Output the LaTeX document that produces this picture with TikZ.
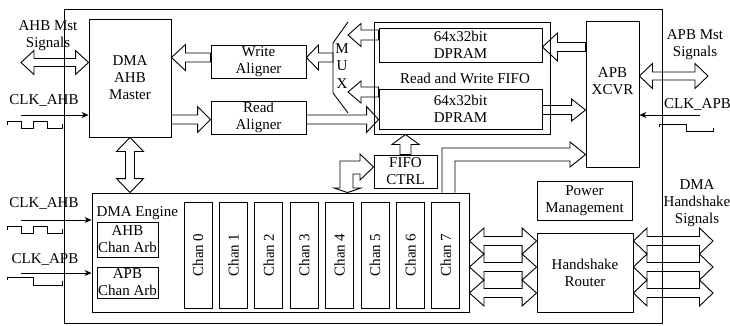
\documentclass[tikz,border=0pt]{standalone}
\usepackage{fontspec}
\setmainfont{Liberation Serif}
\usetikzlibrary{calc,arrows.meta}
\tikzset{
  every node/.style={font=\fontsize{15}{17}\selectfont, inner sep=0pt, align=center},
  blk/.style={draw, line width=0.9pt},
  fat/.style={draw, line width=0.9pt, line join=miter},
  clk/.style={line width=0.9pt, -{Stealth[length=7pt,width=6pt]}},
  wave/.style={line width=0.9pt},
}
% single hollow arrow: start, end, shaft half-width, head half-width, head length
\newcommand\fatone[5]{%
  \path (#1) coordinate (fs) (#2) coordinate (fe);
  \path ($(fe)!#5!(fs)$) coordinate (fh);
  \draw[fat] ($(fs)!#3!90:(fe)$) -- ($(fh)!#3!90:(fe)$) -- ($(fh)!#4!90:(fe)$) -- (fe)
    -- ($(fh)!#4!-90:(fe)$) -- ($(fh)!#3!-90:(fe)$) -- ($(fs)!#3!-90:(fe)$) -- cycle;}
% double hollow arrow
\newcommand\fattwo[5]{%
  \path (#1) coordinate (fs) (#2) coordinate (fe);
  \path ($(fs)!#5!(fe)$) coordinate (ha) ($(fe)!#5!(fs)$) coordinate (hb);
  \draw[fat] (fs) -- ($(ha)!#4!90:(fe)$) -- ($(ha)!#3!90:(fe)$) -- ($(hb)!#3!90:(fe)$)
    -- ($(hb)!#4!90:(fe)$) -- (fe) -- ($(hb)!#4!-90:(fe)$) -- ($(hb)!#3!-90:(fe)$)
    -- ($(ha)!#3!-90:(fe)$) -- ($(ha)!#4!-90:(fe)$) -- cycle;}
\begin{document}
\begin{tikzpicture}[x=1pt,y=-1pt]
\useasboundingbox (0,0) rectangle (730,325);
% outer chip
\node[blk, minimum width=598pt, minimum height=314pt] (chip) at (363,166) {};
% blocks
\node[blk, minimum width=82pt, minimum height=118pt] (dma) at (130,78) {DMA\\AHB\\Master};
\node[blk, minimum width=95pt, minimum height=33pt] (wa) at (258.5,61.5) {Write\\Aligner};
\node[blk, minimum width=95pt, minimum height=33pt] (ra) at (258.5,117.5) {Read\\Aligner};
\node[blk, minimum width=176pt, minimum height=112pt] (fifo) at (462,78) {\hspace{6pt}Read and Write FIFO};
\node[blk, minimum width=163pt, minimum height=34pt] (dp1) at (460.5,45) {64x32bit\\DPRAM};
\node[blk, minimum width=163pt, minimum height=40pt] (dp2) at (460.5,109) {64x32bit\\DPRAM};
\node[blk, minimum width=53pt, minimum height=146pt] (apb) at (612.5,94) {};
\node (apbt) at (612.5,81) {APB\\XCVR};
\node[blk, minimum width=63pt, minimum height=33pt] (fctrl) at (405.5,171.5) {FIFO\\CTRL};
\node[blk, minimum width=377pt, minimum height=119pt] (eng) at (280.5,252.5) {};
\node[anchor=base west] (engt) at (96.5,216) {DMA Engine};
\node[blk, minimum width=61pt, minimum height=35pt] (ahbarb) at (127.5,239.5) {AHB\\Chan Arb};
\node[blk, minimum width=61pt, minimum height=31pt] (apbarb) at (127.5,282.5) {APB\\Chan Arb};
\foreach \i in {0,...,7}
  \node[blk, rotate=90, minimum width=106pt, minimum height=28pt] (ch\i) at ({198+35.4*\i},255) {Chan \i};
\node[blk, minimum width=95pt, minimum height=39pt] (pm) at (584.5,200.5) {Power\\Management};
\node[blk, minimum width=96pt, minimum height=79pt] (hr) at (585,272.5) {Handshake\\Router};
% mux
\coordinate (mxl) at (333,66);
\coordinate (muxA) at (348,35);
\coordinate (muxB) at (348,92);
\draw[blk] (348,22) -- (333,43) -- (333,93) -- (348,113);
\node[font=\fontsize{15}{17.5}\selectfont] (mux) at (342,66) {M\\U\\X};
% external labels
\node (ahbs) at (48,36) {AHB Mst\\Signals};
\node (apbs) at (695,45) {APB Mst\\Signals};
\node (hss) at (697,203.5) {DMA\\Handshake\\Signals};
\node (ck1) at (44,100) {CLK\_AHB};
\node (ck2) at (44,203) {CLK\_AHB};
\node (ck3) at (45,259.5) {CLK\_APB};
\node (ck4) at (697.5,104) {CLK\_APB};
% hollow arrows
\fatone{wa.west |- 0,57.5}{dma.east |- 0,57.5}{4.5pt}{13pt}{14pt}
\fatone{dma.east |- 0,119.5}{ra.west |- 0,119.5}{4.5pt}{13pt}{13pt}
\fatone{mxl |- 0,57.5}{wa.east |- 0,57.5}{4.5pt}{12.5pt}{12pt}
\fatone{dp1.west |- 0,35}{muxA}{5pt}{11.5pt}{13pt}
\fatone{dp2.west |- 0,92}{muxB}{5pt}{11pt}{13pt}
\fatone{ra.east |- 0,119.5}{dp2.west |- 0,119.5}{4.5pt}{13pt}{12pt}
\fatone{apb.west |- 0,47}{dp1.east |- 0,47}{4.5pt}{14pt}{15pt}
\fatone{dp2.east |- 0,110}{apb.west |- 0,110}{4.5pt}{11pt}{14pt}
\fattwo{dma.south}{eng.north -| dma.south}{4.5pt}{13.5pt}{14pt}
\fatone{fctrl.north}{fctrl.north |- fifo.south}{5.5pt}{13.5pt}{10pt}
\coordinate (ahbe) at (21,62.5);
\coordinate (apbe) at (708,76);
\fattwo{ahbe}{dma.west |- ahbe}{4pt}{12pt}{13pt}
\fattwo{apb.east |- apbe}{apbe}{4pt}{12.5pt}{13pt}
\foreach \y in {241,267,293}{
  \fattwo{eng.east |- 0,\y}{hr.west |- 0,\y}{4.5pt}{13pt}{14.5pt}
  \coordinate (hse) at (713,\y);
  \fattwo{hr.east |- hse}{hse}{4.5pt}{13pt}{13.5pt}
}
% L-shaped arrows
\draw[fat] (eng.north -| 442,0) -- (442,148) -- (570,148) -- (570,142) -- (apb.west |- 0,154.5)
  -- (570,167) -- (570,161) -- (455,161) -- (eng.north -| 455,0);
\draw[fat] (340,188) -- (340,161) -- (360,161) -- (360,154) -- (fctrl.west |- 0,167) -- (360,180)
  -- (360,174) -- (353,174) -- (353,188) -- (361,188) -- (eng.north -| 347.5,0) -- (334,188) -- cycle;
% clock arrows
\coordinate (c1) at (21,115);
\coordinate (c2) at (21,220);
\coordinate (c3) at (21,273);
\coordinate (c4) at (700,115);
\draw[clk] (c1) -- (dma.west |- c1);
\draw[clk] (c2) -- (eng.west |- c2);
\draw[clk] (c3) -- (eng.west |- c3);
\draw[clk] (c4) -- (apb.east |- c4);
% clock waveforms
\draw[wave] (7,125) -- (7,121) -- (21,121) -- (21,128) -- (33,128) -- (33,121) -- (47,121) -- (47,128) -- (62,128) -- (62,124);
\draw[wave] (7,230) -- (7,226) -- (21,226) -- (21,233) -- (33,233) -- (33,226) -- (47,226) -- (47,233) -- (62,233) -- (62,229);
\draw[wave] (7,280) -- (7,277) -- (33,277) -- (33,285) -- (62,285) -- (62,281);
\draw[wave] (659,127) -- (659,124) -- (686,124) -- (686,131) -- (713,131) -- (713,128);
\end{tikzpicture}
\end{document}
